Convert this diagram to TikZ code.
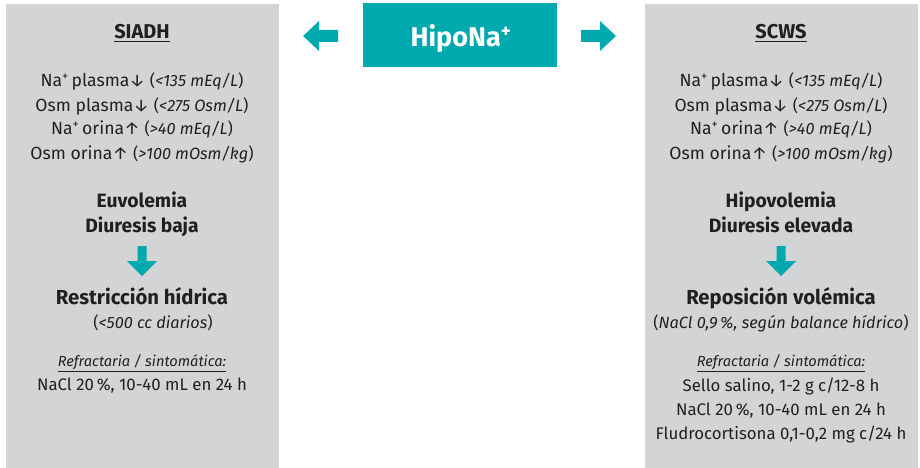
\documentclass[tikz,border=0pt]{standalone}
\usepackage{fontspec}
\setmainfont{Fira Sans}
\definecolor{tealc}{HTML}{00A9AE}
\definecolor{panelc}{HTML}{D3D4D6}
\definecolor{inkc}{HTML}{231F20}
\newcommand{\ulx}[1]{\underline{#1}}
\newcommand{\parx}[1]{{\fontsize{16.3}{20}\selectfont(\textit{#1})}}
\begin{document}
\begin{tikzpicture}[x=1pt,y=-1pt,
  base/.style={text=inkc, inner sep=0pt, anchor=base, align=center},
  body/.style={base, font=\fontsize{17.6}{20}\selectfont},
  head/.style={base, font=\bfseries\fontsize{20}{22}\selectfont},
  sub/.style={base, font=\bfseries\fontsize{19.3}{24.5}\selectfont},
  treat/.style={base, font=\bfseries\fontsize{20.3}{24}\selectfont},
  note/.style={base, font=\itshape\fontsize{14.6}{18}\selectfont},
  small/.style={base, font=\fontsize{16.8}{23.5}\selectfont},
  panel/.style={fill=panelc, draw=none},
  blockarrow/.style={fill=tealc, draw=none}]
\useasboundingbox (0,0) rectangle (920,468);
% panels
\path[panel] (6,4) rectangle (279,468);
\path[panel] (645,4) rectangle (918,468);
% central box
\node[fill=tealc, minimum width=194pt, minimum height=64pt, inner sep=0pt, anchor=north west] (hipo) at (363,3) {};
\node[text=white, font=\bfseries\fontsize{27}{30}\selectfont, inner sep=0pt, anchor=base] (hipot) at (461,47) {HipoNa\textsuperscript{+}};
% side arrows
\path[blockarrow] (338,30) -- (319,30) -- (319,21) -- (303,36) -- (319,51) -- (319,42) -- (338,42) -- cycle;
\path[blockarrow] (581,30) -- (600,30) -- (600,21) -- (616,36) -- (600,51) -- (600,42) -- (581,42) -- cycle;
% ===== left panel =====
\node[head] (lt) at (142,39) {\ulx{SIADH}};
\node[body] (l1) at (142,87) {Na\textsuperscript{+}\,plasma↓ \parx{<135 mEq/L}};
\node[body] (l2) at (142,111) {Osm plasma↓ \parx{<275 Osm/L}};
\node[body] (l3) at (142,135) {Na\textsuperscript{+}\,orina↑ \parx{>40 mEq/L}};
\node[body] (l4) at (142,159) {Osm orina↑ \parx{>100 mOsm/kg}};
\node[sub] (l5) at (142,207.5) {Euvolemia};
\node[sub] (l6) at (142,232) {Diuresis baja};
\path[blockarrow] (137.5,246) -- (146.5,246) -- (146.5,261) -- (157,261) -- (142,276) -- (127,261) -- (137.5,261) -- cycle;
\node[treat] (l7) at (142,304) {Restricción hídrica};
\node[body] (l8) at (153,328) {\parx{<500 cc diarios}};
\node[note] (l9) at (142,366.5) {\ulx{Refractaria / sintomática:}};
\node[small] (l10) at (142,390.5) {NaCl 20\,\%, 10-40 mL en 24 h};
% ===== right panel =====
\node[head] (rt) at (781,39) {\ulx{SCWS}};
\node[body] (r1) at (781,87) {Na\textsuperscript{+}\,plasma↓ \parx{<135 mEq/L}};
\node[body] (r2) at (781,111) {Osm plasma↓ \parx{<275 Osm/L}};
\node[body] (r3) at (781,135) {Na\textsuperscript{+}\,orina↑ \parx{>40 mEq/L}};
\node[body] (r4) at (781,159) {Osm orina↑ \parx{>100 mOsm/kg}};
\node[sub] (r5) at (781,207.5) {Hipovolemia};
\node[sub] (r6) at (781,232) {Diuresis elevada};
\path[blockarrow] (776.5,246) -- (785.5,246) -- (785.5,261) -- (796,261) -- (781,276) -- (766,261) -- (776.5,261) -- cycle;
\node[treat] (r7) at (781,304) {Reposición volémica};
\node[body] (r8) at (781,328) {\parx{NaCl 0,9\,\%, según balance hídrico}};
\node[note] (r9) at (781,366.5) {\ulx{Refractaria / sintomática:}};
\node[small] (r10) at (781,391.5) {Sello salino, 1-2 g c/12-8 h};
\node[small] (r11) at (781,415.5) {NaCl 20\,\%, 10-40 mL en 24 h};
\node[small] (r12) at (781,439) {Fludrocortisona 0,1-0,2 mg c/24 h};
\end{tikzpicture}
\end{document}
